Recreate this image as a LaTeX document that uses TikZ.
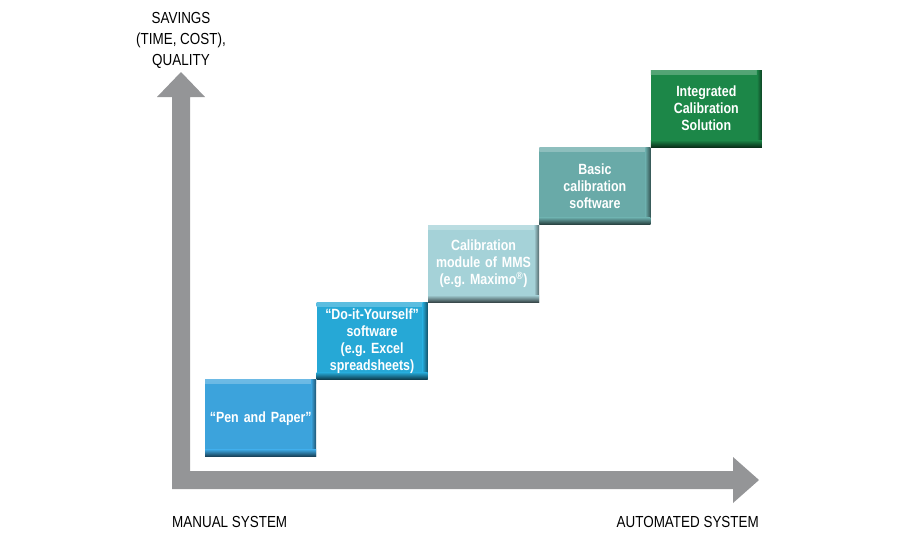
\documentclass[tikz,border=0pt]{standalone}
\usepackage{fontspec}
\setmainfont[FakeStretch=0.84]{Liberation Sans}
\usepackage{xcolor}
\usepackage{tikz}
\usetikzlibrary{positioning,calc}
\frenchspacing

\definecolor{axisgray}{RGB}{148,149,151}
\definecolor{penblue}{RGB}{60,163,220}
\definecolor{diyblue}{RGB}{38,168,214}
\definecolor{mmsteal}{RGB}{165,210,216}
\definecolor{basicteal}{RGB}{105,170,168}
\definecolor{intgreen}{RGB}{28,135,72}

\tikzset{
  stepbox/.style={fill=#1, minimum width=111pt, minimum height=77pt,
    inner sep=0pt, text width=106pt, align=center, text=white,
    font=\bfseries\fontsize{14.8}{17}\selectfont,
    path picture={
      \shade[top color=#1!75!white, bottom color=#1]
        (path picture bounding box.north west) rectangle ([yshift=-4pt]path picture bounding box.north east);
      \shade[left color=#1, right color=#1!50!black]
        ([xshift=-5pt]path picture bounding box.north east) rectangle (path picture bounding box.south east);
      \shade[top color=#1, bottom color=#1!35!black]
        ([yshift=7pt]path picture bounding box.south west) rectangle (path picture bounding box.south east);
    }},
  axislabel/.style={font=\fontsize{16}{21}\selectfont, text=black, inner sep=0pt}
}

\begin{document}
\begin{tikzpicture}[x=1pt,y=-1pt]
  \useasboundingbox (0,0) rectangle (900,550);

  % the two axes as one L-shaped arrow
  \fill[axisgray] (172,489) -- (733,489) -- (733,503) -- (759,480) -- (733,457) -- (733,471)
    -- (190,471) -- (190,97) -- (205,97) -- (181,72) -- (157,97) -- (172,97) -- cycle;

  \node[axislabel,align=center] (ylab) at (181,40) {SAVINGS\\(TIME, COST),\\QUALITY};
  \node[axislabel,anchor=west] (xlow) at (172,522) {MANUAL SYSTEM};
  \node[axislabel,anchor=east] (xhigh) at (759,522) {AUTOMATED SYSTEM};

  % the steps
  \node[stepbox=penblue,anchor=south west] (pen) at (205,457) {“Pen and Paper”};
  \node[stepbox=diyblue,above right=0pt and 0pt of pen] (diy) {“Do-it-Yourself”\\software\\(e.g. Excel\\spreadsheets)};
  \node[stepbox=mmsteal,above right=0pt and 0pt of diy] (mms) {Calibration\\module of MMS\\(e.g. Maximo\textsuperscript{®})};
  \node[stepbox=basicteal,above right=0pt and 0pt of mms] (basic) {Basic\\calibration\\software};
  \node[stepbox=intgreen,above right=0pt and 0pt of basic] (integ) {Integrated\\Calibration\\Solution};
\end{tikzpicture}
\end{document}
